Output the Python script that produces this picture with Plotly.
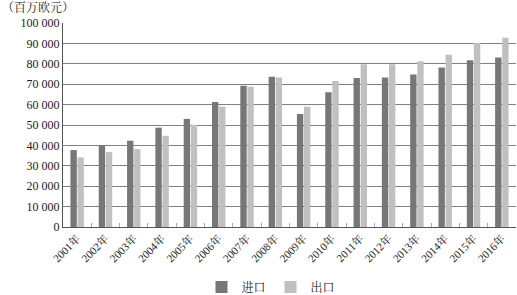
import plotly.graph_objects as go

years = ["2001年","2002年","2003年","2004年","2005年","2006年","2007年","2008年",
         "2009年","2010年","2011年","2012年","2013年","2014年","2015年","2016年"]
imports = [37700, 40200, 42300, 48700, 53000, 61300, 69200, 73600,
           55400, 66100, 73000, 73300, 74700, 78200, 81800, 83100]
exports = [34100, 36700, 38200, 44700, 50100, 59000, 68800, 73300,
           59000, 71600, 79800, 79800, 81300, 84400, 90200, 92800]
y_ticks = [0, 10000, 20000, 30000, 40000, 50000, 60000, 70000, 80000, 90000, 100000]
y_labels = ["0", "10 000", "20 000", "30 000", "40 000", "50 000", "60 000",
            "70 000", "80 000", "90 000", "100 000"]

FONT = "Liberation Serif, Noto Serif CJK SC, Noto Sans CJK SC, serif"

fig = go.Figure()
fig.add_trace(go.Bar(x=years, y=imports, name="进口", marker_color="#777777", marker_line_width=0))
fig.add_trace(go.Bar(x=years, y=exports, name="出口", marker_color="#c0c0c0", marker_line_width=0))

fig.update_layout(
    width=517, height=295,
    margin=dict(l=63, r=1, t=23, b=68, autoexpand=False),
    paper_bgcolor="white", plot_bgcolor="white",
    barmode="group", bargap=0.5, bargroupgap=0.1,
    font=dict(family=FONT, size=12, color="#222222"),
    showlegend=True,
    legend=dict(orientation="h", xref="container", yref="container",
                x=271/517, xanchor="center", y=1 - 287/295, yanchor="middle",
                font=dict(size=12), itemwidth=30, traceorder="normal",
                tracegroupgap=0, itemsizing="constant"),
    annotations=[dict(text="（百万欧元）", xref="paper", yref="paper",
                      x=-63/453, y=1 + 15/204, xanchor="left", yanchor="middle",
                      showarrow=False, font=dict(size=12, family=FONT))],
)
fig.update_xaxes(type="category", tickangle=-45, tickfont=dict(size=11),
                 showline=True, linecolor="#555555", linewidth=1,
                 tickson="boundaries", ticks="inside", ticklen=4, tickcolor="#aaaaaa",
                 showgrid=False, automargin=False)
fig.update_yaxes(range=[0, 100000], tickvals=y_ticks, ticktext=y_labels,
                 showgrid=True, gridcolor="#808080", gridwidth=1,
                 showline=True, linecolor="#555555", linewidth=1,
                 zeroline=False, ticks="", tickfont=dict(size=12), automargin=False)

fig.write_html("out.html")
